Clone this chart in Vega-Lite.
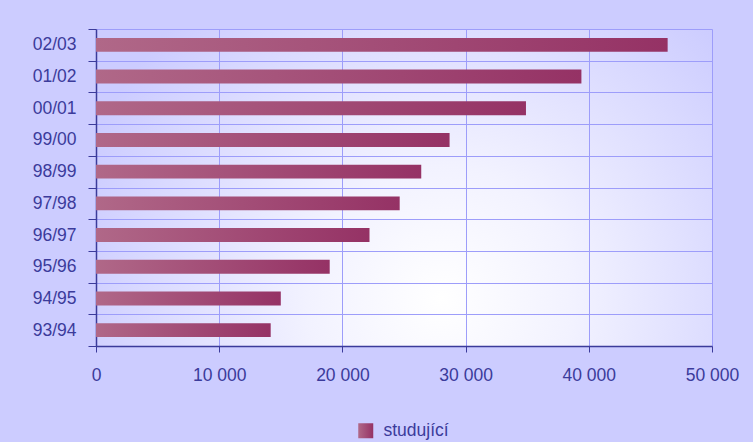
{
  "$schema": "https://vega.github.io/schema/vega-lite/v6.json",
  "width": 616,
  "height": 317,
  "autosize": {"type": "none"},
  "padding": {"left": 96, "top": 29, "right": 41, "bottom": 96},
  "background": "#CCCCFF",
  "data": {
    "values": [
      {"rok": "93/94", "studujici": 14180, "serie": "studující"},
      {"rok": "94/95", "studujici": 15000, "serie": "studující"},
      {"rok": "95/96", "studujici": 18970, "serie": "studující"},
      {"rok": "96/97", "studujici": 22200, "serie": "studující"},
      {"rok": "97/98", "studujici": 24650, "serie": "studující"},
      {"rok": "98/99", "studujici": 26400, "serie": "studující"},
      {"rok": "99/00", "studujici": 28700, "serie": "studující"},
      {"rok": "00/01", "studujici": 34900, "serie": "studující"},
      {"rok": "01/02", "studujici": 39400, "serie": "studující"},
      {"rok": "02/03", "studujici": 46400, "serie": "studující"}
    ]
  },
  "mark": {
    "type": "bar",
    "height": {"band": 0.44},
    "color": {
      "gradient": "linear",
      "x1": 0, "y1": 0, "x2": 1, "y2": 0,
      "stops": [
        {"offset": 0, "color": "#B06888"},
        {"offset": 1, "color": "#953265"}
      ]
    }
  },
  "encoding": {
    "y": {
      "field": "rok",
      "type": "nominal",
      "sort": ["02/03", "01/02", "00/01", "99/00", "98/99", "97/98", "96/97", "95/96", "94/95", "93/94"],
      "scale": {"paddingInner": 0, "paddingOuter": 0},
      "axis": {
        "title": null,
        "tickBand": "extent",
        "grid": true,
        "gridColor": "#9D9DFA",
        "gridWidth": 1,
        "tickSize": 8,
        "tickColor": "#3B3B9B",
        "domainColor": "#3B3B9B",
        "domainWidth": 1.5,
        "labelFont": "Liberation Sans",
        "labelFontSize": 17.5,
        "labelColor": "#3B3B9B",
        "labelPadding": 12
      }
    },
    "x": {
      "field": "studujici",
      "type": "quantitative",
      "scale": {"domain": [0, 50000], "nice": false},
      "axis": {
        "title": null,
        "values": [0, 10000, 20000, 30000, 40000, 50000],
        "format": ",d",
        "labelExpr": "replace(datum.label, ',', ' ')",
        "grid": true,
        "gridColor": "#9D9DFA",
        "gridWidth": 1,
        "tickSize": 6,
        "tickColor": "#3B3B9B",
        "domainColor": "#3B3B9B",
        "domainWidth": 1.5,
        "labelFont": "Liberation Sans",
        "labelFontSize": 17.5,
        "labelColor": "#3B3B9B",
        "labelPadding": 14,
        "labelFlush": false
      }
    },
    "opacity": {
      "field": "serie",
      "type": "nominal",
      "scale": {"range": [1]},
      "legend": {
        "title": null,
        "orient": "none",
        "legendX": 261,
        "legendY": 393,
        "direction": "horizontal",
        "symbolType": "square",
        "symbolSize": 225,
        "symbolStrokeWidth": 0,
        "labelFont": "Liberation Sans",
        "labelFontSize": 17.5,
        "labelColor": "#3B3B9B",
        "labelOffset": 9
      }
    }
  },
  "config": {
    "view": {
      "stroke": null,
      "fill": {
        "gradient": "radial",
        "x1": 0.56, "y1": 0.68, "r1": 0,
        "x2": 0.56, "y2": 0.68, "r2": 0.62,
        "stops": [
          {"offset": 0, "color": "#FFFFFF"},
          {"offset": 0.35, "color": "#F2F2FF"},
          {"offset": 1, "color": "#CCCCFF"}
        ]
      }
    }
  }
}
